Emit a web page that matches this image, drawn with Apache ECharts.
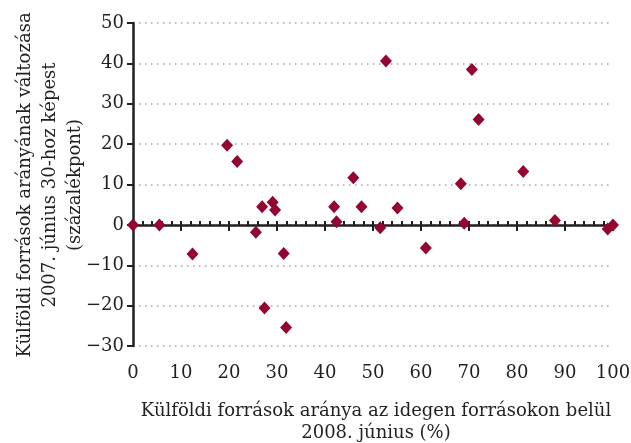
<!DOCTYPE html>
<html>
<head>
<meta charset="utf-8">
<script src="https://cdn.jsdelivr.net/npm/echarts@6/dist/echarts.min.js"></script>
<style>
  html, body { margin: 0; padding: 0; background: #ffffff; }
  #chart { width: 631px; height: 443px; }
</style>
</head>
<body>
<div id="chart"></div>
<script>
// x: share of foreign funds within external funds, June 2008 (%)
var xValues = [0, 5.5, 12.4, 19.6, 21.7, 25.6, 26.9, 27.4, 29.1, 29.6, 31.4, 31.9,
  41.9, 42.4, 45.9, 47.6, 51.5, 52.7, 55.1, 61.0, 68.3, 69.0, 70.6, 72.0,
  81.3, 87.9, 98.9, 100];
// y: change since 30 June 2007 (percentage points)
var yValues = [0, 0, -7.2, 19.7, 15.7, -1.8, 4.5, -20.6, 5.6, 3.7, -7.1, -25.4,
  4.5, 0.8, 11.7, 4.5, -0.7, 40.6, 4.2, -5.7, 10.2, 0.4, 38.5, 26.1,
  13.2, 1.1, -1.0, 0];
var yAxisName = ["Külföldi források arányának változása", "2007. június 30-hoz képest", "(százalékpont)"];
var xAxisName = ["Külföldi források aránya az idegen forrásokon belül", "2008. június (%)"];

var ink = "#231f20";
var font = "'DejaVu Serif', 'Liberation Serif', serif";

var points = [];
for (var i = 0; i < xValues.length; i++) {
  points.push([xValues[i], yValues[i]]);
}

var chart = echarts.init(document.getElementById("chart"));
chart.setOption({
  animation: false,
  backgroundColor: "#ffffff",
  grid: { left: 133, right: 18, top: 23, bottom: 97, outerBoundsMode: "none" },
  xAxis: [
    {
      // zero line with the downward major ticks
      type: "value", min: 0, max: 100, interval: 10, position: "bottom",
      axisLine: { onZero: true, onZeroAxisIndex: 0, lineStyle: { color: ink, width: 2.5 } },
      axisTick: { show: true, length: 6, lineStyle: { color: ink, width: 2 } },
      axisLabel: { show: false },
      splitLine: { show: false }
    },
    {
      // upward ticks every 2 units
      type: "value", min: 0, max: 100, interval: 10, position: "bottom",
      axisLine: { show: true, onZero: true, onZeroAxisIndex: 0, lineStyle: { color: "rgba(0,0,0,0)", width: 0 } },
      axisTick: { show: true, inside: true, length: 4, lineStyle: { color: ink, width: 2 } },
      minorTick: { show: true, splitNumber: 5, length: 4, lineStyle: { color: ink, width: 2 } },
      axisLabel: { show: false },
      splitLine: { show: false }
    },
    {
      // labels along the bottom edge
      type: "value", min: 0, max: 100, interval: 10, position: "bottom",
      axisLine: { show: false, onZero: false },
      axisTick: { show: false },
      axisLabel: { show: true, margin: 18, color: ink, fontSize: 18, fontFamily: font },
      splitLine: { show: false }
    }
  ],
  yAxis: {
    type: "value", min: -30, max: 50, interval: 10,
    axisLine: { show: true, lineStyle: { color: ink, width: 2.5 } },
    axisTick: { show: true, length: 6, lineStyle: { color: ink, width: 2 } },
    axisLabel: {
      margin: 9, color: ink, fontSize: 18, fontFamily: font,
      formatter: function (v) { return String(v).replace("-", "\u2212"); }
    },
    splitLine: { show: true, lineStyle: { color: "#a6a6a6", width: 1.5, type: [1.5, 4.5] } }
  },
  series: [
    {
      type: "scatter",
      xAxisIndex: 0,
      symbol: "diamond",
      symbolSize: [12, 13],
      itemStyle: { color: "#93062f", opacity: 1 },
      data: points,
      z: 5
    }
  ],
  graphic: [
    {
      type: "text", x: 25, y: 185, rotation: Math.PI / 2,
      style: { text: yAxisName[0], fill: ink, font: "18px " + font, align: "center", verticalAlign: "middle" }
    },
    {
      type: "text", x: 50, y: 185, rotation: Math.PI / 2,
      style: { text: yAxisName[1], fill: ink, font: "18px " + font, align: "center", verticalAlign: "middle" }
    },
    {
      type: "text", x: 75, y: 185, rotation: Math.PI / 2,
      style: { text: yAxisName[2], fill: ink, font: "18px " + font, align: "center", verticalAlign: "middle" }
    },
    {
      type: "text", x: 376, y: 411,
      style: { text: xAxisName[0], fill: ink, font: "18px " + font, align: "center", verticalAlign: "middle" }
    },
    {
      type: "text", x: 376, y: 433,
      style: { text: xAxisName[1], fill: ink, font: "18px " + font, align: "center", verticalAlign: "middle" }
    }
  ]
});
</script>
</body>
</html>
